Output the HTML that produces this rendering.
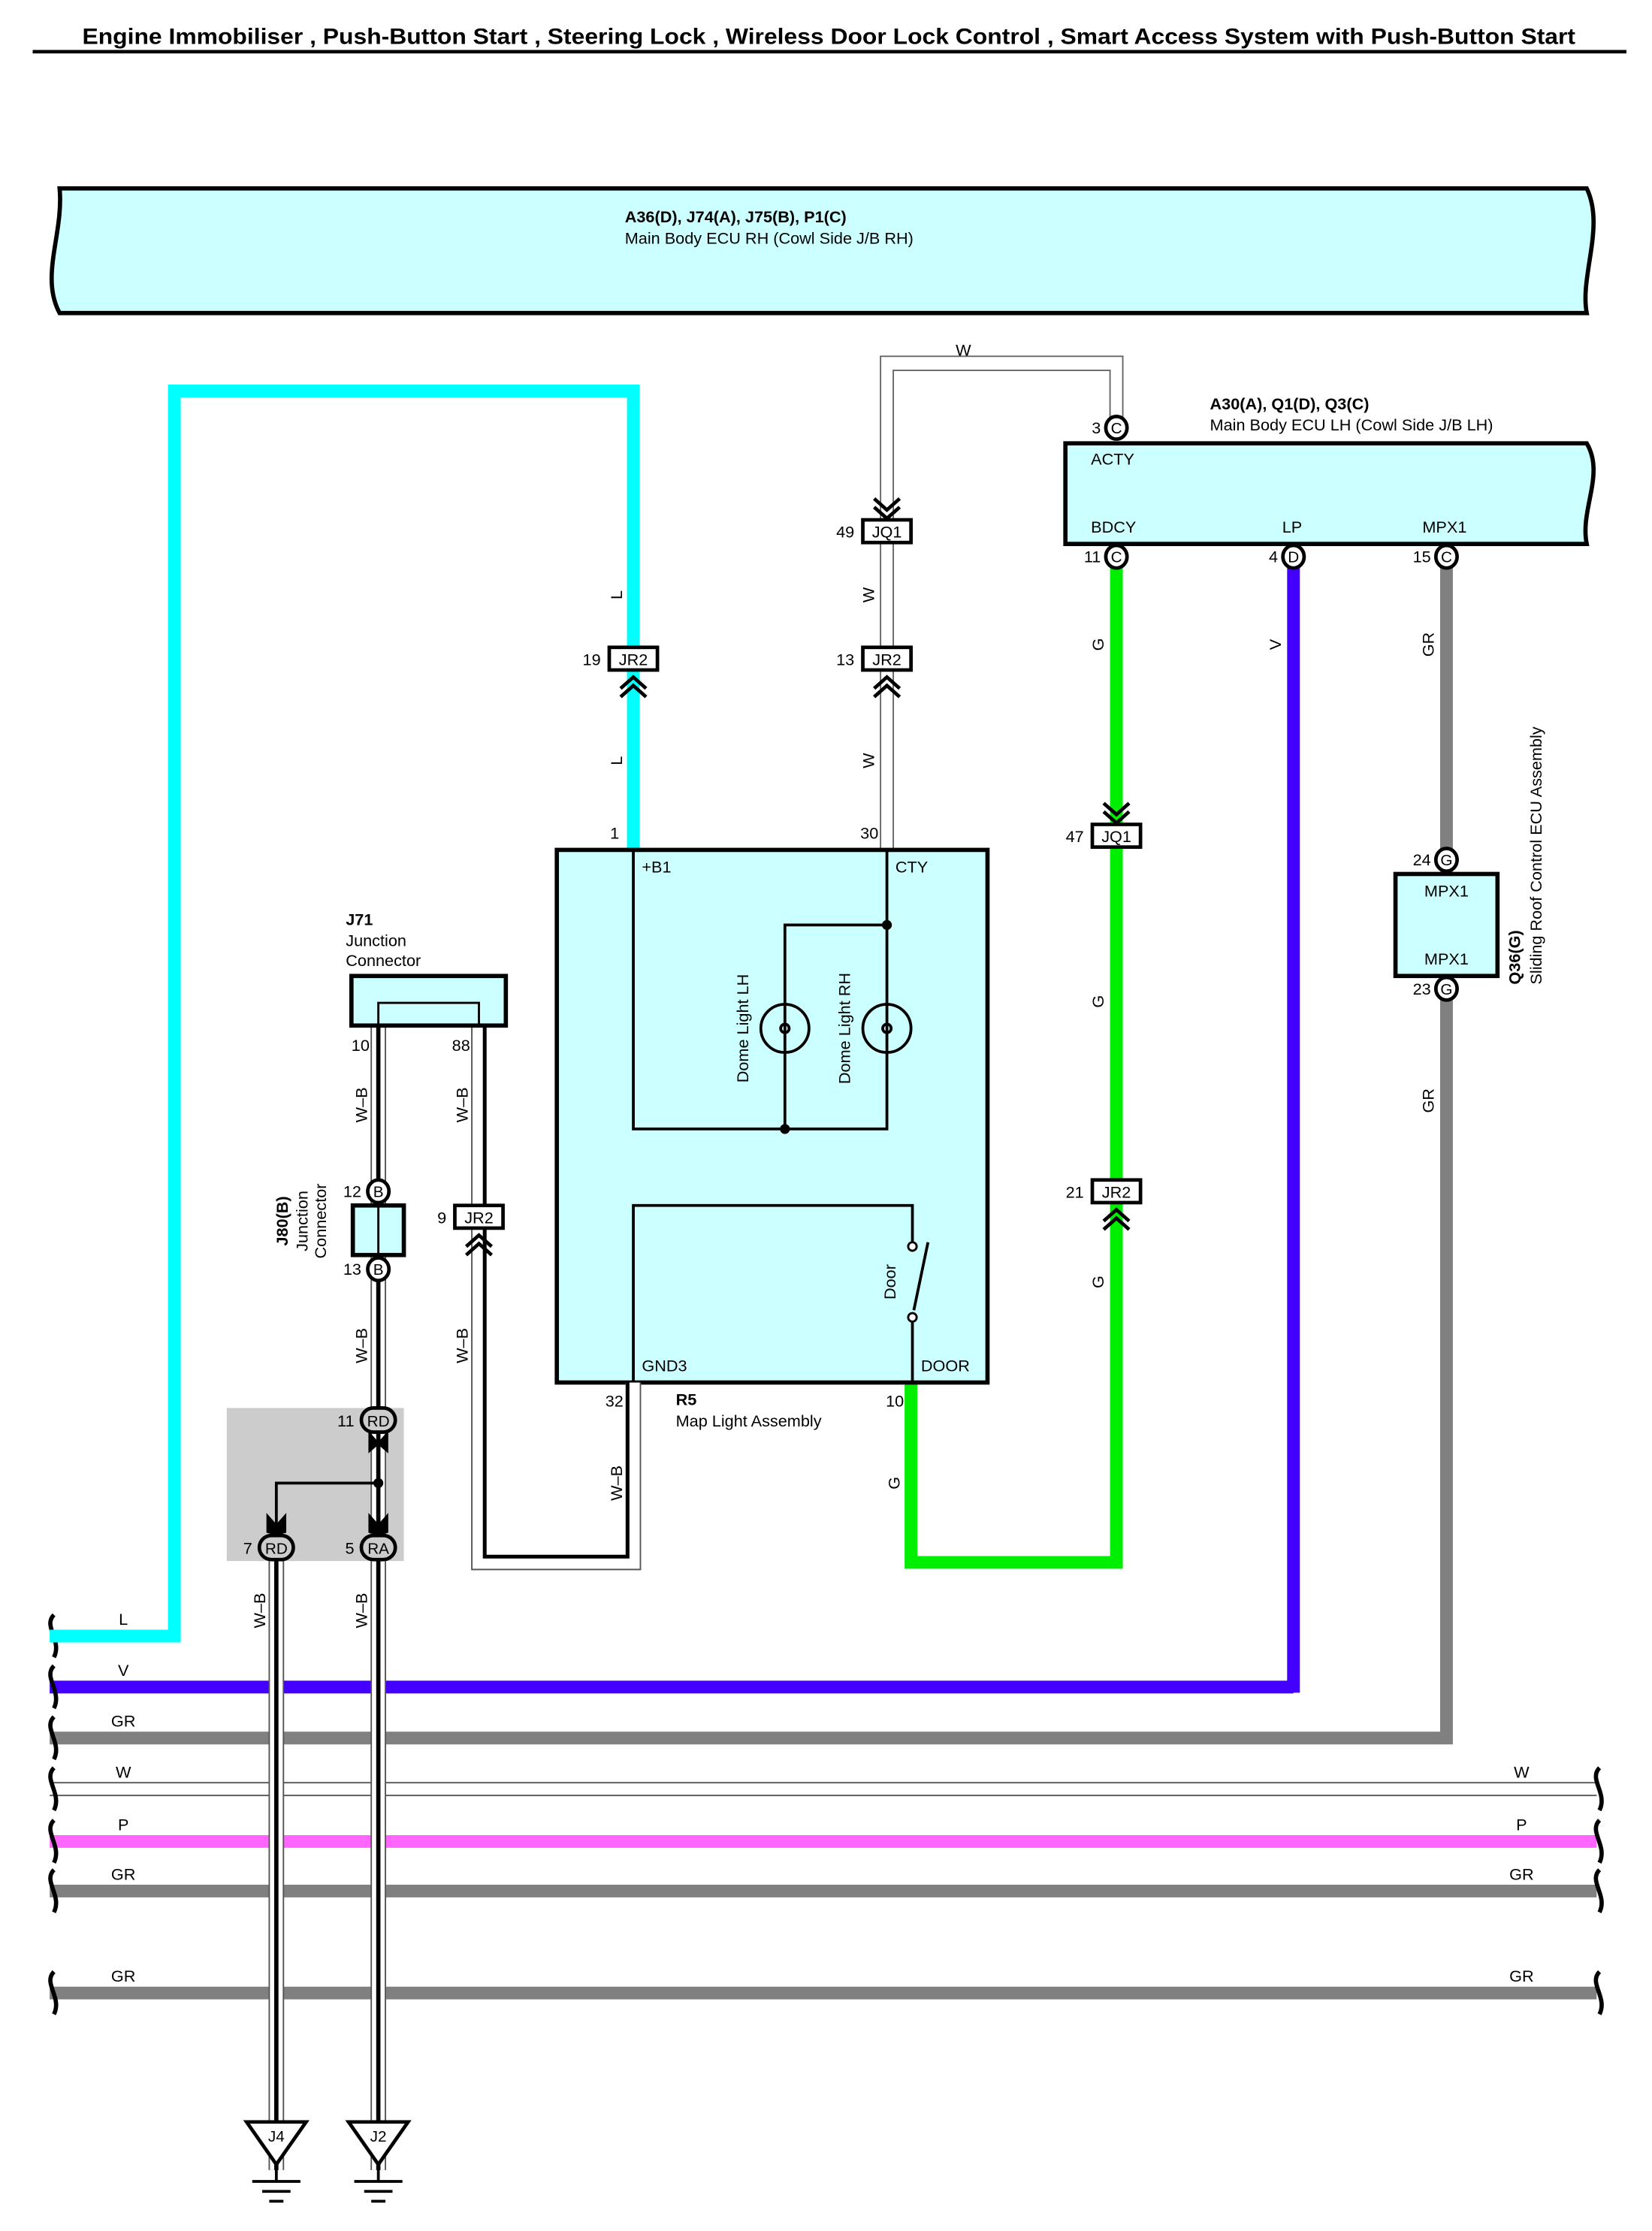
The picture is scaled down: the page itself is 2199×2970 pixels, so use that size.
<!DOCTYPE html>
<html><head><meta charset="utf-8"><style>
html,body{margin:0;padding:0;background:#fff;}
svg{display:block;}
text{font-family:"Liberation Sans",sans-serif;fill:#000;}
</style></head><body>
<svg width="2199" height="2970" viewBox="0 0 1166 1575" xmlns="http://www.w3.org/2000/svg">
<defs>
<g id="chu"><polyline points="-9,8 0,0 9,8" fill="none" stroke="#000" stroke-width="2.5"/><polyline points="-9,14 0,6 9,14" fill="none" stroke="#000" stroke-width="2.5"/></g>
<g id="chd"><polyline points="-9,-8 0,0 9,-8" fill="none" stroke="#000" stroke-width="2.5"/><polyline points="-9,-14 0,-6 9,-14" fill="none" stroke="#000" stroke-width="2.5"/></g>
</defs>
<!-- title -->
<text x="58" y="31" font-size="15.5" font-weight="bold" textLength="1054" lengthAdjust="spacingAndGlyphs">Engine Immobiliser , Push-Button Start , Steering Lock , Wireless Door Lock Control , Smart Access System with Push-Button Start</text>
<line x1="23" y1="36.5" x2="1148" y2="36.5" stroke="#000" stroke-width="2.5"/>

<!-- top ECU RH -->
<path d="M42,133 L1120,133 C1133,160 1115,195 1120,221 L42,221 C28,195 45,165 42,133 Z" fill="#ccffff" stroke="#000" stroke-width="3"/>
<text x="441" y="157" font-size="11.5" font-weight="bold">A36(D), J74(A), J75(B), P1(C)</text>
<text x="441" y="172" font-size="11.5">Main Body ECU RH (Cowl Side J/B RH)</text>

<!-- bus wires -->
<line x1="35" y1="1191" x2="913" y2="1191" stroke="#4400ff" stroke-width="9"/>
<line x1="913" y1="1195" x2="913" y2="400" stroke="#4400ff" stroke-width="9"/>
<polyline points="35,1227 1021,1227 1021,400" fill="none" stroke="#808080" stroke-width="9"/>
<line x1="35" y1="1258.5" x2="1127" y2="1258.5" stroke="#555" stroke-width="1"/>
<line x1="35" y1="1267.5" x2="1127" y2="1267.5" stroke="#555" stroke-width="1"/>
<line x1="35" y1="1300" x2="1127" y2="1300" stroke="#ff66ff" stroke-width="9"/>
<line x1="35" y1="1335" x2="1127" y2="1335" stroke="#808080" stroke-width="9"/>
<line x1="35" y1="1407" x2="1127" y2="1407" stroke="#808080" stroke-width="9"/>
<g font-size="11.5" text-anchor="middle">
<text x="87" y="1147">L</text><text x="87" y="1183">V</text><text x="87" y="1219">GR</text><text x="87" y="1255">W</text><text x="87" y="1292">P</text><text x="87" y="1327">GR</text><text x="87" y="1399">GR</text>
<text x="1074" y="1255">W</text><text x="1074" y="1292">P</text><text x="1074" y="1327">GR</text><text x="1074" y="1399">GR</text>
</g>
<!-- break marks -->
<g fill="none" stroke="#000" stroke-width="3">
<path d="M38,1140 C30,1148 44,1158 38,1170"/><path d="M38,1176 C30,1184 44,1194 38,1206"/><path d="M38,1212 C30,1220 44,1230 38,1242"/><path d="M38,1248 C30,1256 44,1266 38,1278"/><path d="M38,1285 C30,1293 44,1303 38,1315"/><path d="M38,1320 C30,1328 44,1338 38,1350"/><path d="M38,1392 C30,1400 44,1410 38,1422"/>
<path d="M1129,1248 C1121,1256 1135,1266 1129,1278"/><path d="M1129,1285 C1121,1293 1135,1303 1129,1315"/><path d="M1129,1320 C1121,1328 1135,1338 1129,1350"/><path d="M1129,1392 C1121,1400 1135,1410 1129,1422"/>
</g>

<!-- cyan L wire -->
<polyline points="447,600 447,276 123,276 123,1155 35,1155" fill="none" stroke="#00ffff" stroke-width="9"/>
<rect x="430" y="457" width="34" height="16" fill="#fff" stroke="#000" stroke-width="2.5"/>
<text x="447" y="469.5" font-size="11.5" text-anchor="middle">JR2</text>
<text x="424" y="469.5" font-size="11.5" text-anchor="end">19</text>
<use href="#chu" x="447" y="478"/>
<text font-size="11.5" transform="translate(439,420) rotate(-90)" text-anchor="middle">L</text>
<text font-size="11.5" transform="translate(439,537) rotate(-90)" text-anchor="middle">L</text>

<!-- W wire -->
<g fill="none" stroke="#666" stroke-width="1">
<polyline points="621.5,600 621.5,251.5 792.5,251.5 792.5,296"/>
<polyline points="630.5,600 630.5,261.5 783.5,261.5 783.5,296"/>
</g>
<text x="680" y="251" font-size="11.5" text-anchor="middle">W</text>
<use href="#chd" x="626" y="366"/>
<rect x="609" y="367" width="34" height="16" fill="#fff" stroke="#000" stroke-width="2.5"/>
<text x="626" y="379.5" font-size="11.5" text-anchor="middle">JQ1</text>
<text x="603" y="379.5" font-size="11.5" text-anchor="end">49</text>
<rect x="609" y="457" width="34" height="16" fill="#fff" stroke="#000" stroke-width="2.5"/>
<text x="626" y="469.5" font-size="11.5" text-anchor="middle">JR2</text>
<text x="603" y="469.5" font-size="11.5" text-anchor="end">13</text>
<use href="#chu" x="626" y="478"/>
<text font-size="11.5" transform="translate(617,420) rotate(-90)" text-anchor="middle">W</text>
<text font-size="11.5" transform="translate(617,537) rotate(-90)" text-anchor="middle">W</text>

<!-- ECU LH -->
<path d="M752,313 L1120,313 C1133,335 1115,360 1120,384 L752,384 Z" fill="#ccffff" stroke="#000" stroke-width="3"/>
<text x="854" y="289" font-size="11.5" font-weight="bold">A30(A), Q1(D), Q3(C)</text>
<text x="854" y="304" font-size="11.5">Main Body ECU LH (Cowl Side J/B LH)</text>
<g font-size="11.5">
<text x="770" y="328">ACTY</text><text x="770" y="376">BDCY</text><text x="905" y="376">LP</text><text x="1004" y="376">MPX1</text>
</g>

<!-- green G wire -->
<polyline points="788,400 788,1103 643,1103 643,976" fill="none" stroke="#00ee00" stroke-width="9"/>
<use href="#chd" x="788" y="581"/>
<rect x="771" y="582" width="34" height="16" fill="#fff" stroke="#000" stroke-width="2.5"/>
<text x="788" y="594.5" font-size="11.5" text-anchor="middle">JQ1</text>
<text x="765" y="594.5" font-size="11.5" text-anchor="end">47</text>
<rect x="771" y="833" width="34" height="16" fill="#fff" stroke="#000" stroke-width="2.5"/>
<text x="788" y="845.5" font-size="11.5" text-anchor="middle">JR2</text>
<text x="765" y="845.5" font-size="11.5" text-anchor="end">21</text>
<use href="#chu" x="788" y="854"/>
<g font-size="11.5" text-anchor="middle">
<text transform="translate(779,455) rotate(-90)">G</text>
<text transform="translate(779,707) rotate(-90)">G</text>
<text transform="translate(779,905) rotate(-90)">G</text>
<text transform="translate(635,1047) rotate(-90)">G</text>
<text transform="translate(904,455) rotate(-90)">V</text>
<text transform="translate(1012,455) rotate(-90)">GR</text>
<text transform="translate(1012,777) rotate(-90)">GR</text>
</g>

<!-- Q36 -->
<rect x="985" y="617" width="72" height="72" fill="#ccffff" stroke="#000" stroke-width="3"/>
<text x="1021" y="633" font-size="11.5" text-anchor="middle">MPX1</text>
<text x="1021" y="681" font-size="11.5" text-anchor="middle">MPX1</text>
<text transform="translate(1073,695) rotate(-90)" font-size="11.5" font-weight="bold">Q36(G)</text>
<text transform="translate(1088,695) rotate(-90)" font-size="11.5">Sliding Roof Control ECU Assembly</text>

<!-- connector circles -->
<g stroke="#000" stroke-width="2.5" fill="#fff">
<ellipse cx="788" cy="302" rx="7.5" ry="8"/><ellipse cx="788" cy="393" rx="7.5" ry="8"/><ellipse cx="913" cy="393" rx="7.5" ry="8"/><ellipse cx="1021" cy="393" rx="7.5" ry="8"/>
<ellipse cx="1021" cy="607" rx="7.5" ry="8"/><ellipse cx="1021" cy="698" rx="7.5" ry="8"/>
</g>
<g font-size="11" text-anchor="middle">
<text x="788" y="306">C</text><text x="788" y="397">C</text><text x="913" y="397">D</text><text x="1021" y="397">C</text><text x="1021" y="611">G</text><text x="1021" y="702">G</text>
</g>
<g font-size="11.5" text-anchor="end">
<text x="777" y="306">3</text><text x="777" y="397">11</text><text x="902" y="397">4</text><text x="1010" y="397">15</text><text x="1010" y="611">24</text><text x="1010" y="702">23</text>
</g>

<!-- R5 -->
<rect x="393" y="600" width="304" height="376" fill="#ccffff" stroke="#000" stroke-width="3"/>
<g fill="none" stroke="#000" stroke-width="2">
<polyline points="447,600 447,797 626,797 626,600"/>
<polyline points="626,653 554,653 554,797"/>
<circle cx="554" cy="726" r="17"/><circle cx="626" cy="726" r="17"/>
<path d="M551,726 a3,3 0 1 1 6,0 a3,3 0 1 1 -6,0"/>
<path d="M623,726 a3,3 0 1 1 6,0 a3,3 0 1 1 -6,0"/>
<polyline points="447,976 447,851 644,851 644,877"/>
<line x1="644" y1="933" x2="644" y2="976"/>
<line x1="655" y1="877" x2="645" y2="925"/>
</g>
<circle cx="554" cy="797" r="3.5"/><circle cx="626" cy="653" r="3.5"/>
<circle cx="644" cy="880" r="3" fill="#fff" stroke="#000" stroke-width="1.5"/>
<circle cx="644" cy="930" r="3" fill="#fff" stroke="#000" stroke-width="1.5"/>
<g font-size="11.5">
<text x="453" y="616">+B1</text><text x="632" y="616">CTY</text><text x="453" y="968">GND3</text><text x="650" y="968">DOOR</text>
<text x="437" y="592" text-anchor="end">1</text><text x="620" y="592" text-anchor="end">30</text>
<text x="440" y="993" text-anchor="end">32</text><text x="638" y="993" text-anchor="end">10</text>
<text x="477" y="992" font-weight="bold">R5</text><text x="477" y="1007">Map Light Assembly</text>
<text transform="translate(528,726) rotate(-90)" text-anchor="middle">Dome Light LH</text>
<text transform="translate(600,726) rotate(-90)" text-anchor="middle">Dome Light RH</text>
<text transform="translate(632,905) rotate(-90)" text-anchor="middle">Door</text>
</g>

<!-- gray box -->
<rect x="160" y="994" width="125" height="108" fill="#cccccc"/>

<!-- W-B wires -->
<g fill="none" stroke-linejoin="miter">
<polyline points="447,976 447,1103 338,1103 338,724" stroke="#555" stroke-width="11"/>
<polyline points="447,976 447,1103 338,1103 338,724" stroke="#fff" stroke-width="9"/>
<polyline points="443,976 443,1099 342,1099 342,724" stroke="#000" stroke-width="2.5"/>
<line x1="267" y1="724" x2="267" y2="1532" stroke="#555" stroke-width="11"/>
<line x1="267" y1="724" x2="267" y2="1532" stroke="#fff" stroke-width="9"/>
<line x1="267" y1="724" x2="267" y2="1532" stroke="#000" stroke-width="3"/>
<line x1="195" y1="1092" x2="195" y2="1532" stroke="#555" stroke-width="11"/>
<line x1="195" y1="1092" x2="195" y2="1532" stroke="#fff" stroke-width="9"/>
<line x1="195" y1="1092" x2="195" y2="1532" stroke="#000" stroke-width="3"/>
</g>
<g font-size="11.5" text-anchor="middle">
<text transform="translate(259,780) rotate(-90)">W–B</text>
<text transform="translate(330,780) rotate(-90)">W–B</text>
<text transform="translate(259,950) rotate(-90)">W–B</text>
<text transform="translate(330,950) rotate(-90)">W–B</text>
<text transform="translate(439,1047) rotate(-90)">W–B</text>
<text transform="translate(187,1137) rotate(-90)">W–B</text>
<text transform="translate(259,1137) rotate(-90)">W–B</text>
</g>

<!-- J71 -->
<rect x="248" y="689" width="109" height="35" fill="#ccffff" stroke="#000" stroke-width="3"/>
<polyline points="267,724 267,708 338,708 338,724" fill="none" stroke="#000" stroke-width="1.5"/>
<g font-size="11.5">
<text x="244" y="653" font-weight="bold">J71</text><text x="244" y="668">Junction</text><text x="244" y="682">Connector</text>
<text x="248" y="742">10</text><text x="319" y="742">88</text>
</g>
<!-- JR2 9 -->
<rect x="321" y="851" width="34" height="16" fill="#fff" stroke="#000" stroke-width="2.5"/>
<text x="338" y="863.5" font-size="11.5" text-anchor="middle">JR2</text>
<text x="315" y="863.5" font-size="11.5" text-anchor="end">9</text>
<use href="#chu" x="338" y="872"/>

<!-- J80 -->
<rect x="249" y="851" width="36" height="35" fill="#ccffff" stroke="#000" stroke-width="3"/>
<line x1="267" y1="851" x2="267" y2="886" stroke="#000" stroke-width="1.5"/>
<g stroke="#000" stroke-width="2.5" fill="#fff">
<ellipse cx="267" cy="841" rx="7.5" ry="8"/><ellipse cx="267" cy="896" rx="7.5" ry="8"/>
</g>
<text x="267" y="845" font-size="11" text-anchor="middle">B</text><text x="267" y="900" font-size="11" text-anchor="middle">B</text>
<text x="255" y="845" font-size="11.5" text-anchor="end">12</text><text x="255" y="900" font-size="11.5" text-anchor="end">13</text>
<text transform="translate(203,862) rotate(-90)" font-size="11.5" font-weight="bold" text-anchor="middle">J80(B)</text>
<text transform="translate(217,862) rotate(-90)" font-size="11.5" text-anchor="middle">Junction</text>
<text transform="translate(230,862) rotate(-90)" font-size="11.5" text-anchor="middle">Connector</text>

<!-- splice in gray box -->
<polyline points="267,1047 195,1047 195,1082" fill="none" stroke="#000" stroke-width="2"/>
<circle cx="267" cy="1047" r="3.5"/>
<path d="M260,1010 L267,1018 L274,1010 L274,1026 L267,1020 L260,1026 Z"/>
<path d="M260,1068 L267,1076 L274,1068 L274,1082 L267,1084 L260,1082 Z"/>
<path d="M188,1068 L195,1076 L202,1068 L202,1082 L195,1084 L188,1082 Z"/>
<g stroke="#000" stroke-width="2.5" fill="#ccc">
<rect x="255" y="994" width="24" height="17" rx="8.5"/><rect x="183" y="1084" width="24" height="17" rx="8.5"/><rect x="255" y="1084" width="24" height="17" rx="8.5"/>
</g>
<g font-size="11" text-anchor="middle">
<text x="267" y="1007">RD</text><text x="195" y="1097">RD</text><text x="267" y="1097">RA</text>
</g>
<g font-size="11.5" text-anchor="end">
<text x="250" y="1007">11</text><text x="178" y="1097">7</text><text x="250" y="1097">5</text>
</g>

<!-- grounds -->
<g fill="#fff" stroke="#000" stroke-width="2.5">
<polygon points="174,1498 216,1498 195,1528"/><polygon points="246,1498 288,1498 267,1528"/>
</g>
<g stroke="#000" stroke-width="2">
<line x1="195" y1="1528" x2="195" y2="1540"/><line x1="178" y1="1540" x2="212" y2="1540"/><line x1="185" y1="1547" x2="205" y2="1547"/><line x1="190" y1="1554" x2="200" y2="1554"/>
<line x1="267" y1="1528" x2="267" y2="1540"/><line x1="250" y1="1540" x2="284" y2="1540"/><line x1="257" y1="1547" x2="277" y2="1547"/><line x1="262" y1="1554" x2="272" y2="1554"/>
</g>
<text x="195" y="1512" font-size="11" text-anchor="middle">J4</text>
<text x="267" y="1512" font-size="11" text-anchor="middle">J2</text>
</svg>
</body></html>
